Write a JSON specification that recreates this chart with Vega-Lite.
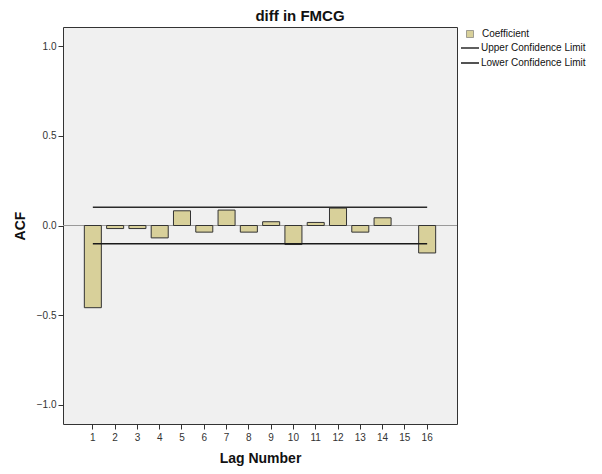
{
  "$schema": "https://vega.github.io/schema/vega-lite/v6.json",
  "width": 394,
  "height": 397,
  "autosize": {"type": "none"},
  "padding": {"left": 63, "top": 27, "right": 145, "bottom": 50},
  "background": "white",
  "config": {
    "view": {"fill": "#f0f0f0", "stroke": "#333333", "strokeWidth": 1},
    "font": "Liberation Sans"
  },
  "title": {"text": "diff in FMCG", "fontSize": 15, "fontWeight": "bold", "color": "#111111", "dx": 40, "offset": 3},
  "data": {
    "values": [
      {"lag": 1, "acf": -0.458, "ucl": 0.101, "lcl": -0.101},
      {"lag": 2, "acf": -0.017, "ucl": 0.101, "lcl": -0.101},
      {"lag": 3, "acf": -0.017, "ucl": 0.101, "lcl": -0.101},
      {"lag": 4, "acf": -0.069, "ucl": 0.101, "lcl": -0.101},
      {"lag": 5, "acf": 0.082, "ucl": 0.101, "lcl": -0.101},
      {"lag": 6, "acf": -0.037, "ucl": 0.101, "lcl": -0.101},
      {"lag": 7, "acf": 0.086, "ucl": 0.101, "lcl": -0.101},
      {"lag": 8, "acf": -0.037, "ucl": 0.101, "lcl": -0.101},
      {"lag": 9, "acf": 0.021, "ucl": 0.101, "lcl": -0.101},
      {"lag": 10, "acf": -0.106, "ucl": 0.101, "lcl": -0.101},
      {"lag": 11, "acf": 0.017, "ucl": 0.101, "lcl": -0.101},
      {"lag": 12, "acf": 0.097, "ucl": 0.101, "lcl": -0.101},
      {"lag": 13, "acf": -0.037, "ucl": 0.101, "lcl": -0.101},
      {"lag": 14, "acf": 0.043, "ucl": 0.101, "lcl": -0.101},
      {"lag": 15, "acf": null, "ucl": 0.101, "lcl": -0.101},
      {"lag": 16, "acf": -0.153, "ucl": 0.101, "lcl": -0.101}
    ]
  },
  "encoding": {
    "x": {
      "field": "lag",
      "type": "ordinal",
      "scale": {"type": "band", "paddingInner": 0.236, "paddingOuter": 0.957},
      "axis": {
        "title": "Lag Number",
        "titleFontSize": 14,
        "titleFontWeight": "bold",
        "titleColor": "#111111",
        "titlePadding": 9,
        "labelAngle": 0,
        "labelFontSize": 10,
        "labelColor": "#333333",
        "labelPadding": 3,
        "tickSize": 5,
        "tickColor": "#333333",
        "domain": false
      }
    }
  },
  "layer": [
    {
      "mark": {"type": "rule", "color": "#999999", "strokeWidth": 1},
      "encoding": {"x": null, "y": {"datum": 0, "type": "quantitative"}}
    },
    {
      "mark": {"type": "bar", "stroke": "#333333", "strokeWidth": 1},
      "encoding": {
        "y": {
          "field": "acf",
          "type": "quantitative",
          "scale": {"domain": [-1.106, 1.106], "nice": false, "zero": false},
          "axis": {
            "title": "ACF",
            "titleFontSize": 14,
            "titleFontWeight": "bold",
            "titleColor": "#111111",
            "titlePadding": 9,
            "values": [-1, -0.5, 0, 0.5, 1],
            "format": ".1f",
            "labelFontSize": 10,
            "labelColor": "#333333",
            "labelPadding": 2,
            "tickSize": 5,
            "tickColor": "#333333",
            "grid": false,
            "domain": false
          }
        },
        "fill": {
          "datum": "Coefficient",
          "scale": {"domain": ["Coefficient"], "range": ["#d8d09a"]},
          "legend": {
            "title": null,
            "orient": "none",
            "legendX": 402,
            "legendY": 2,
            "padding": 0,
            "symbolType": "square",
            "symbolSize": 49,
            "symbolStrokeColor": "#555555",
            "symbolStrokeWidth": 0.5,
            "labelOffset": 7,
            "labelFontSize": 10,
            "labelColor": "#111111"
          }
        }
      }
    },
    {
      "mark": {"type": "line", "strokeWidth": 1.5},
      "encoding": {
        "y": {"field": "ucl", "type": "quantitative"},
        "stroke": {
          "datum": "Upper Confidence Limit",
          "scale": {"domain": ["Upper Confidence Limit", "Lower Confidence Limit"], "range": ["#2a2a2a", "#1a1a1a"]},
          "legend": {
            "title": null,
            "orient": "none",
            "legendX": 397,
            "legendY": 11,
            "padding": 0,
            "symbolType": "stroke",
            "symbolSize": 324,
            "symbolStrokeWidth": 1.5,
            "labelOffset": 1,
            "rowPadding": -2.5,
            "labelFontSize": 10,
            "labelColor": "#111111"
          }
        }
      }
    },
    {
      "mark": {"type": "line", "strokeWidth": 1.5},
      "encoding": {
        "y": {"field": "lcl", "type": "quantitative"},
        "stroke": {"datum": "Lower Confidence Limit"}
      }
    }
  ]
}
